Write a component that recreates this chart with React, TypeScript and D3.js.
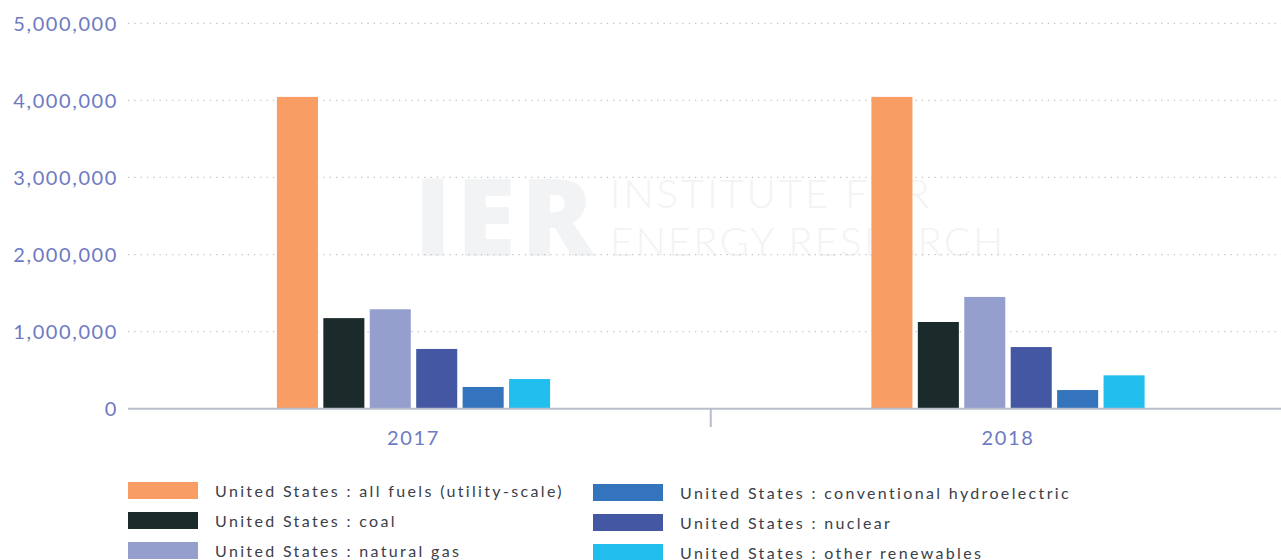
import React from "react";
import * as d3 from "d3";

const years = ["2017", "2018"];
const seriesNames = [
  "all fuels (utility-scale)",
  "coal",
  "natural gas",
  "nuclear",
  "conventional hydroelectric",
  "other renewables",
];
const seriesColors = ["#f89d63", "#1b2a2b", "#949fce", "#4457a3", "#3474bc", "#22bfee"];
const values2017 = [4045000, 1175000, 1290000, 775000, 282000, 385000];
const values2018 = [4045000, 1125000, 1450000, 800000, 242000, 433000];
const yTicks = [0, 1000000, 2000000, 3000000, 4000000, 5000000];
const legendOrder = [
  ["all fuels (utility-scale)", "coal", "natural gas"],
  ["conventional hydroelectric", "nuclear", "other renewables"],
];

const W = 1281;
const H = 560;
const plotLeft = 128;
const plotRight = 1281;

export default function App() {
  const valuesByYear: Record<string, number[]> = { "2017": values2017, "2018": values2018 };
  const y = d3.scaleLinear().domain([0, 5000000]).range([408.7, 23.3]);
  const x0 = d3.scaleBand<string>().domain(years).range([116.25, 1305.25]).paddingInner(0).paddingOuter(0);
  const x1 = d3
    .scaleBand<string>()
    .domain(seriesNames)
    .range([0, x0.bandwidth()])
    .paddingInner(0.116)
    .paddingOuter(3.46);
  const fmt = d3.format(",");
  const colorOf = (name: string) => seriesColors[seriesNames.indexOf(name)];

  return (
    <svg
      width={W}
      height={H}
      style={{ position: "absolute", left: 0, top: 0, background: "#fff" }}
      fontFamily="Lato, 'Open Sans', sans-serif"
    >
      {/* watermark */}
      <g fill="#f2f3f5">
        <text x={414} y={256} fontSize={108} fontWeight={800} letterSpacing={5} fontFamily="'Open Sans', Lato, sans-serif">
          IER
        </text>
        <text x={610} y={208} fontSize={40} fontWeight={300} letterSpacing={3}>
          INSTITUTE FOR
        </text>
        <text x={610} y={256} fontSize={40} fontWeight={300} letterSpacing={2.2}>
          ENERGY RESEARCH
        </text>
      </g>
      {/* gridlines */}
      {yTicks
        .filter((t) => t > 0)
        .map((t) => (
          <line
            key={t}
            x1={plotLeft}
            x2={plotRight}
            y1={y(t)}
            y2={y(t)}
            stroke="#c4c4c8"
            strokeWidth={1.3}
            strokeDasharray="1.3 5"
          />
        ))}
      {/* y labels */}
      {yTicks.map((t) => (
        <text
          key={"l" + t}
          x={118}
          y={y(t)}
          dy="0.36em"
          textAnchor="end"
          fontSize={20}
          letterSpacing={1.6}
          fill="#6e7ac3"
        >
          {fmt(t)}
        </text>
      ))}
      {/* bars */}
      {years.map((yr) => (
        <g key={yr} transform={`translate(${x0(yr)},0)`}>
          {seriesNames.map((s, i) => (
            <rect
              key={s}
              x={x1(s)}
              y={y(valuesByYear[yr][i])}
              width={x1.bandwidth()}
              height={y(0) - y(valuesByYear[yr][i])}
              fill={seriesColors[i]}
            />
          ))}
        </g>
      ))}
      {/* x axis */}
      <line x1={plotLeft} x2={plotRight} y1={408.7} y2={408.7} stroke="#b9bdc9" strokeWidth={2} />
      <line
        x1={(x0("2018") as number)}
        x2={(x0("2018") as number)}
        y1={408}
        y2={427}
        stroke="#b9bdc9"
        strokeWidth={2}
      />
      {years.map((yr) => (
        <text
          key={"x" + yr}
          x={(x0(yr) as number) + x0.bandwidth() / 2}
          y={445}
          textAnchor="middle"
          fontSize={20}
          letterSpacing={1.6}
          fill="#6e7ac3"
        >
          {yr}
        </text>
      ))}
      {/* legend */}
      {legendOrder.map((col, ci) =>
        col.map((name, ri) => {
          const sx = ci === 0 ? 128 : 593;
          const sy = (ci === 0 ? 482 : 484) + ri * 30;
          return (
            <g key={name}>
              <rect x={sx} y={sy} width={70} height={17} fill={colorOf(name)} />
              <text
                x={sx + 87}
                y={sy + 15}
                fontSize={16}
                letterSpacing={2.35}
                fill="#3b4049"
              >
                {"United States : " + name}
              </text>
            </g>
          );
        })
      )}
    </svg>
  );
}
